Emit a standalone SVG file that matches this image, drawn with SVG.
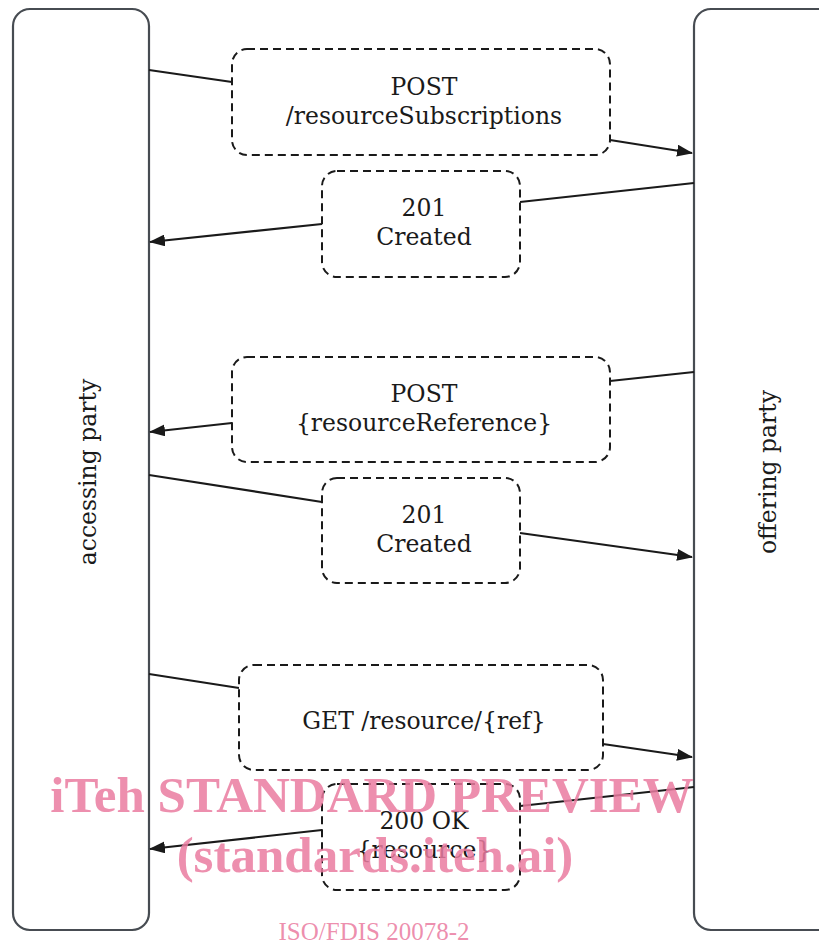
<svg xmlns="http://www.w3.org/2000/svg" width="819" height="943" viewBox="0 0 819 943">
<style>
.lane{fill:#fff;stroke:#474c52;stroke-width:2.2}
.box{fill:#fff;stroke:#1a1a1a;stroke-width:2;stroke-dasharray:8 5}
.t{font-family:"DejaVu Serif","Liberation Serif",serif;font-size:23.5px;fill:#1a1a1a;text-anchor:middle}
.c{fill:none;stroke:#1a1a1a;stroke-width:2.2}
.wm{font-family:"Liberation Serif",serif;font-weight:bold;fill:#ea7ba0;fill-opacity:0.85;text-anchor:middle}
</style>
<defs>
<marker id="ah" markerWidth="16" markerHeight="12" refX="15" refY="6" orient="auto" markerUnits="userSpaceOnUse">
<path d="M0,0 L16,6 L0,12 Z" fill="#1a1a1a"/>
</marker>
</defs>
<rect width="819" height="943" fill="#fff"/>
<g id="accessing-party">
<rect class="lane" x="13" y="9" width="136" height="921" rx="17"/>
<text class="t" transform="translate(96,472) rotate(-90)">accessing party</text>
</g>
<g id="offering-party">
<rect class="lane" x="694" y="9" width="150" height="921" rx="17"/>
<text class="t" transform="translate(776,472) rotate(-90)">offering party</text>
</g>
<g id="connectors">
<line class="c" x1="149" y1="70" x2="232" y2="82"/>
<line class="c" x1="610" y1="140" x2="692" y2="153" marker-end="url(#ah)"/>
<line class="c" x1="694" y1="183" x2="520" y2="202"/>
<line class="c" x1="322" y1="224" x2="150" y2="242" marker-end="url(#ah)"/>
<line class="c" x1="694" y1="372" x2="610" y2="381"/>
<line class="c" x1="232" y1="423" x2="150" y2="432" marker-end="url(#ah)"/>
<line class="c" x1="149" y1="475" x2="322" y2="502"/>
<line class="c" x1="520" y1="533" x2="692" y2="557" marker-end="url(#ah)"/>
<line class="c" x1="149" y1="674" x2="239" y2="688"/>
<line class="c" x1="603" y1="744" x2="692" y2="757" marker-end="url(#ah)"/>
<line class="c" x1="694" y1="787" x2="520" y2="806"/>
<line class="c" x1="322" y1="830" x2="150" y2="849" marker-end="url(#ah)"/>
</g>
<g id="post-subscriptions">
<rect class="box" x="232" y="49" width="378" height="106" rx="15"/>
<text class="t" x="424" y="95">POST</text>
<text class="t" x="424" y="124">/resourceSubscriptions</text>
</g>
<g id="created-1">
<rect class="box" x="322" y="171" width="198" height="106" rx="15"/>
<text class="t" x="424" y="216">201</text>
<text class="t" x="424" y="245">Created</text>
</g>
<g id="post-reference">
<rect class="box" x="232" y="357" width="378" height="105" rx="15"/>
<text class="t" x="424" y="402">POST</text>
<text class="t" x="424" y="431">{resourceReference}</text>
</g>
<g id="created-2">
<rect class="box" x="322" y="478" width="198" height="105" rx="15"/>
<text class="t" x="424" y="523">201</text>
<text class="t" x="424" y="552">Created</text>
</g>
<g id="get-resource">
<rect class="box" x="239" y="665" width="364" height="105" rx="15"/>
<text class="t" x="424" y="729">GET /resource/{ref}</text>
</g>
<g id="ok-200">
<rect class="box" x="322" y="784" width="198" height="106" rx="15"/>
<text class="t" x="424" y="829">200 OK</text>
<text class="t" x="424" y="858">{resource}</text>
</g>
<g id="watermark">
<text class="wm" x="372" y="812" font-size="51">iTeh STANDARD PREVIEW</text>
<text class="wm" x="375" y="872" font-size="51">(standards.iteh.ai)</text>
<text x="374" y="940" font-family="Liberation Serif,serif" font-size="25" fill="#ea7ba0" fill-opacity="0.85" text-anchor="middle">ISO/FDIS 20078-2</text>
</g>
</svg>
